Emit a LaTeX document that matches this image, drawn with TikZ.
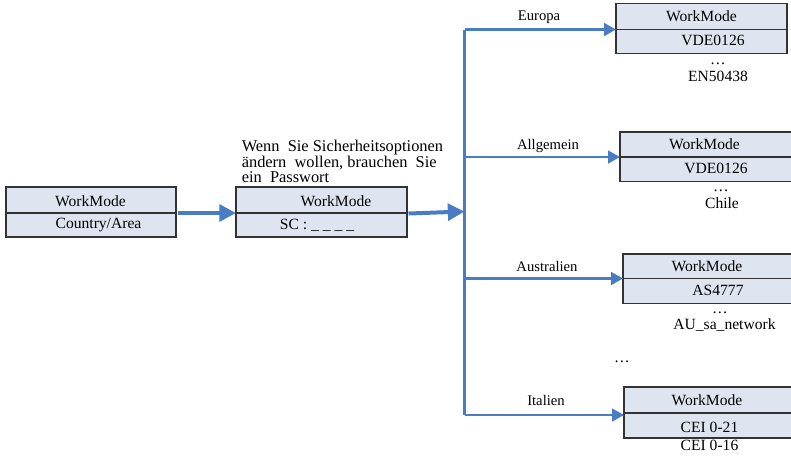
\documentclass[tikz,border=0pt]{standalone}
\usepackage{fontspec}
\setmainfont{Liberation Serif}
\usetikzlibrary{arrows.meta}
\definecolor{cellfill}{HTML}{DFE5F0}
\definecolor{arrowblue}{HTML}{4A7CC4}
\definecolor{edgegray}{HTML}{333333}
\begin{document}
\begin{tikzpicture}[x=0.75pt,y=-0.75pt,
  cell/.style={draw=edgegray, fill=cellfill, line width=0.9pt, inner sep=0pt, outer sep=0pt, anchor=north west},
  txt/.style={font=\fontsize{11.7}{13}\selectfont, inner sep=0pt},
  dotsnode/.style={font=\fontsize{11.7}{13}\selectfont, inner sep=0pt, anchor=base},
  lbl/.style={font=\fontsize{11}{12}\selectfont, inner sep=0pt},
  mainarrow/.style={draw=arrowblue, line width=3pt, -{Triangle[length=12.5pt,width=12.5pt]}},
  brancharrow/.style={draw=arrowblue, line width=2pt, -{Triangle[length=9pt,width=9.5pt]}},
  trunk/.style={draw=arrowblue, line width=2pt}
]
\useasboundingbox (0,0) rectangle (791,455);
\clip (0,0) rectangle (791,455);

% Box 1
\node[cell, minimum width=127.5pt, minimum height=19.5pt] (b1t) at (6,187) {};
\node[cell, minimum width=127.5pt, minimum height=18pt] (b1b) at (6,213) {};
\node[txt] (b1tt) at (90.5,201) {WorkMode};
\node[txt] (b1bt) at (98.5,225) {Country/Area};

% Box 2
\node[cell, minimum width=128.25pt, minimum height=19.5pt] (b2t) at (236,187) {};
\node[cell, minimum width=128.25pt, minimum height=18pt] (b2b) at (236,213) {};
\node[txt] (b2tt) at (336,201) {WorkMode};
\node[txt] (b2bt) at (317,225) {SC : \_ \_ \_ \_};

\node[txt, anchor=west, align=left, font=\fontsize{12.3}{11.8}\selectfont] (note) at (241.5,161.5)
  {Wenn \ Sie Sicherheitsoptionen\\ändern \ wollen, brauchen \ Sie\\ein \ Passwort};

% Europa box
\node[cell, minimum width=128.25pt, minimum height=19.5pt] (eut) at (616,3.5) {};
\node[cell, minimum width=128.25pt, minimum height=18pt] (eub) at (616,29.5) {};
\node[txt] (eutt) at (701.5,16.5) {WorkMode};
\node[txt] (eubt) at (713,40.5) {VDE0126};
\node[dotsnode] (eud) at (718,64) {\dots};
\node[txt] (eue) at (718,76.5) {EN50438};

% Allgemein box
\node[cell, minimum width=140pt, minimum height=19pt] (alt) at (620,132) {};
\node[cell, minimum width=140pt, minimum height=18.5pt] (alb) at (620,157) {};
\node[txt] (altt) at (704.5,144.5) {WorkMode};
\node[txt] (albt) at (716,168.5) {VDE0126};
\node[dotsnode] (ald) at (721,191) {\dots};
\node[txt] (ale) at (722,203.5) {Chile};

% Australien box
\node[cell, minimum width=140pt, minimum height=18.5pt] (aut) at (623,254) {};
\node[cell, minimum width=140pt, minimum height=18.5pt] (aub) at (623,278.5) {};
\node[txt] (autt) at (707,266) {WorkMode};
\node[txt] (aubt) at (718,290.5) {AS4777};
\node[dotsnode] (aud) at (720,313) {\dots};
\node[txt] (aue) at (724.5,325.5) {AU\_sa\_network};

\node[dotsnode] (more) at (622,362.5) {\dots};

% Italien box
\node[cell, minimum width=140pt, minimum height=19.5pt] (itt) at (624,387) {};
\node[cell, minimum width=140pt, minimum height=18.75pt] (itb) at (624,413) {};
\node[txt] (ittt) at (707,400) {WorkMode};
\node[txt] (itbt) at (709.5,427.5) {CEI 0-21};
\node[txt] (ite) at (709.5,445.5) {CEI 0-16};

% Main arrows
\coordinate (jn) at (464.5,211.5);
\draw[mainarrow] (b1t.south east) ++(1.5,0) -- (b2t.south west);
\draw[mainarrow] (b2t.south east) ++(1.5,0.5) -- (jn);

% Trunk and branches
\coordinate (tEU) at (464.5,29.5);
\coordinate (tAL) at (464.5,157);
\coordinate (tAU) at (464.5,278.5);
\coordinate (tIT) at (464.5,415);
\draw[trunk] (tEU) -- (tIT);
\draw[brancharrow] (tEU) -- (eut.west |- tEU);
\draw[brancharrow] (tAL) -- (alt.west |- tAL);
\draw[brancharrow] (tAU) -- (aut.west |- tAU);
\draw[brancharrow] (tIT) -- (itb.west |- tIT);

\node[lbl] (lEU) at (539,17) {Europa};
\node[lbl] (lAL) at (548,145.5) {Allgemein};
\node[lbl] (lAU) at (547,266.5) {Australien};
\node[lbl] (lIT) at (546,400.5) {Italien};
\end{tikzpicture}
\end{document}
